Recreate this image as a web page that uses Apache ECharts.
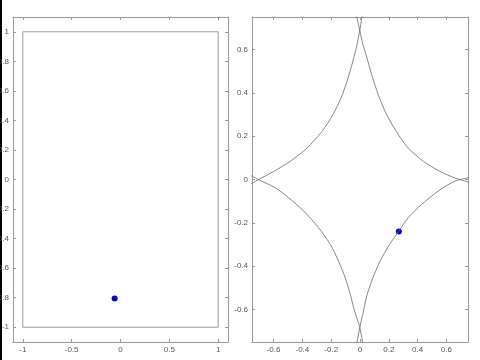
<!DOCTYPE html>
<html>
<head>
<meta charset="utf-8">
<script src="https://cdn.jsdelivr.net/npm/echarts@6/dist/echarts.min.js"></script>
<style>html,body{margin:0;padding:0;background:#fff}#c{width:480px;height:360px}</style>
</head>
<body>
<div id="c"></div>
<script>
// ---- data ----
const leftXTicks = [-1, -0.5, 0, 0.5, 1];
const leftYTicks = [-1, -0.8, -0.6, -0.4, -0.2, 0, 0.2, 0.4, 0.6, 0.8, 1];
const rightTicks = [-0.6, -0.4, -0.2, 0, 0.2, 0.4, 0.6];
const leftRange = [-1.1, 1.1];
const rightRange = [-0.75, 0.75];

const squareX = [-1, 1, 1, -1, -1];
const squareY = [-1, -1, 1, 1, -1];
const pointLeft = [-0.06, -0.805];
const pointRight = [0.27, -0.24];

const arcUpperRight = [[-0.03, 0.78], [-0.022, 0.75], [0, 0.683], [0.017, 0.63], [0.042, 0.576], [0.081, 0.484],
  [0.127, 0.391], [0.185, 0.299], [0.266, 0.207], [0.335, 0.145], [0.44, 0.084], [0.556, 0.037],
  [0.66, 0.007], [0.752, -0.012], [0.78, -0.018]];
const arcUpperLeft = [[0.022, 0.78], [0.014, 0.75], [-0.003, 0.683], [-0.026, 0.607], [-0.056, 0.53], [-0.09, 0.453],
  [-0.132, 0.376], [-0.188, 0.299], [-0.264, 0.222], [-0.368, 0.145], [-0.484, 0.084], [-0.6, 0.037],
  [-0.704, 0], [-0.746, -0.016], [-0.78, -0.028]];
const arcLowerLeft = [[-0.78, 0.026], [-0.746, 0.014], [-0.704, -0.001], [-0.588, -0.038], [-0.496, -0.084],
  [-0.392, -0.145], [-0.288, -0.222], [-0.206, -0.3], [-0.149, -0.377], [-0.102, -0.454], [-0.067, -0.531],
  [-0.038, -0.607], [-0.003, -0.678], [0.018, -0.75], [0.026, -0.78]];
const arcLowerRight = [[-0.03, -0.78], [-0.021, -0.75], [0, -0.678], [0.024, -0.607], [0.05, -0.53],
  [0.09, -0.453], [0.14, -0.376], [0.205, -0.3], [0.27, -0.238], [0.335, -0.176], [0.428, -0.115],
  [0.544, -0.053], [0.66, -0.007], [0.752, 0.008], [0.78, 0.012]];

// ---- chart ----
const frameColor = '#9a9a9a';
const labelStyle = { fontSize: 8, color: '#555', fontFamily: 'Liberation Sans, Arial, sans-serif' };

function mainAxis(gridIndex, range, ticks, position) {
  return {
    type: 'value', gridIndex, position, min: range[0], max: range[1],
    axisLine: { show: true, onZero: false, lineStyle: { color: frameColor, width: 1 } },
    axisTick: { show: true, inside: true, length: 3, customValues: ticks, lineStyle: { color: frameColor } },
    axisLabel: Object.assign({ show: true, margin: 4, customValues: ticks, hideOverlap: false }, labelStyle),
    splitLine: { show: false }
  };
}
function mirrorAxis(gridIndex, range, ticks, position) {
  return {
    type: 'value', gridIndex, position, min: range[0], max: range[1],
    axisLine: { show: true, onZero: false, lineStyle: { color: frameColor, width: 1 } },
    axisTick: { show: true, inside: true, length: 3, customValues: ticks, lineStyle: { color: frameColor } },
    axisLabel: { show: false },
    splitLine: { show: false }
  };
}

const pairs = (xs, ys) => xs.map((x, i) => [x, ys[i]]);
const curveStyle = { color: '#6a6a6a', width: 0.8 };
function arcSeries(data) {
  return { type: 'line', xAxisIndex: 2, yAxisIndex: 2, data, showSymbol: false, smooth: 0.25,
    lineStyle: curveStyle, silent: true, clip: true, animation: false };
}
const dotStyle = { color: '#0a0ab4', opacity: 1 };

const chart = echarts.init(document.getElementById('c'), null, { renderer: 'canvas' });
chart.setOption({
  animation: false,
  backgroundColor: '#fff',
  grid: [
    { left: 13, top: 17, width: 215, height: 325, containLabel: false, outerBoundsMode: 'none' },
    { left: 252, top: 17, width: 216, height: 325, containLabel: false, outerBoundsMode: 'none' }
  ],
  xAxis: [
    mainAxis(0, leftRange, leftXTicks, 'bottom'),
    mirrorAxis(0, leftRange, leftXTicks, 'top'),
    mainAxis(1, rightRange, rightTicks, 'bottom'),
    mirrorAxis(1, rightRange, rightTicks, 'top')
  ],
  yAxis: [
    mainAxis(0, leftRange, leftYTicks, 'left'),
    mirrorAxis(0, leftRange, leftYTicks, 'right'),
    mainAxis(1, rightRange, rightTicks, 'left'),
    mirrorAxis(1, rightRange, rightTicks, 'right')
  ],
  series: [
    { type: 'line', xAxisIndex: 0, yAxisIndex: 0, data: pairs(squareX, squareY), showSymbol: false,
      lineStyle: { color: frameColor, width: 1 }, silent: true },
    { type: 'scatter', xAxisIndex: 0, yAxisIndex: 0, data: [pointLeft], symbolSize: 6,
      itemStyle: dotStyle, silent: true },
    arcSeries(arcUpperRight),
    arcSeries(arcUpperLeft),
    arcSeries(arcLowerLeft),
    arcSeries(arcLowerRight),
    { type: 'scatter', xAxisIndex: 2, yAxisIndex: 2, data: [pointRight], symbolSize: 6,
      itemStyle: dotStyle, silent: true }
  ],
  graphic: [
    { type: 'rect', left: 0, top: 0, shape: { width: 2, height: 360 }, style: { fill: '#000' }, silent: true }
  ]
});
</script>
</body>
</html>
